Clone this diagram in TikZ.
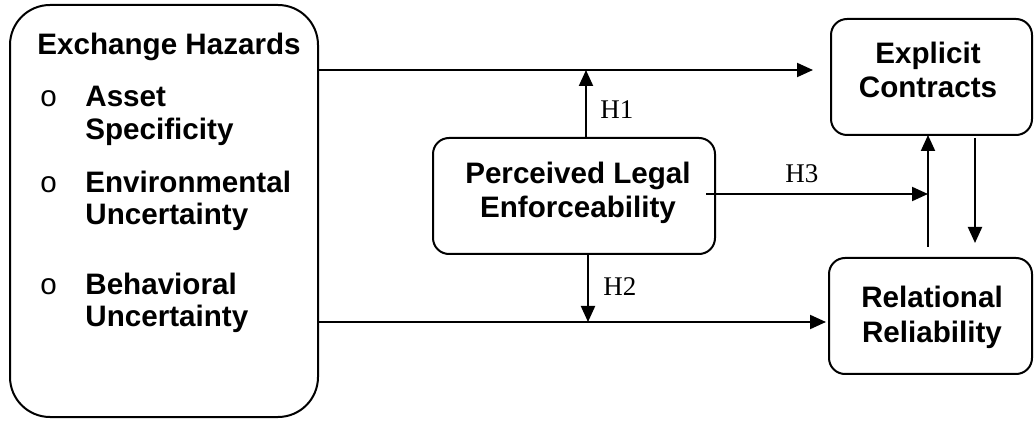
\documentclass[tikz,border=0pt]{standalone}
\usepackage{fontspec}
\setmainfont{Liberation Sans}
\newfontfamily\timesf{Liberation Serif}
\usetikzlibrary{arrows.meta}
\begin{document}
\begin{tikzpicture}[x=0.5pt,y=-0.5pt,
  rbox/.style={draw, line width=1pt, rounded corners=#1, inner sep=0pt},
  lbl/.style={font=\fontsize{14.8}{17}\selectfont\bfseries, inner sep=0pt, anchor=base},
  lblw/.style={lbl, anchor=base west},
  bul/.style={font=\fontsize{14.8}{17}\selectfont, inner sep=0pt, anchor=base west},
  hl/.style={font=\timesf\fontsize{13.5}{15}\selectfont, inner sep=0pt, anchor=base west},
  arr/.style={line width=1pt, -{Triangle[length=8pt,width=7pt]}}]
\useasboundingbox (0,0) rectangle (1034,422);
% boxes
\node[rbox=20pt, minimum width=154pt, minimum height=206pt] (haz) at (164,211) {};
\node[rbox=8pt, minimum width=100.5pt, minimum height=58pt] (ec) at (931.5,77) {};
\node[rbox=8pt, minimum width=101.5pt, minimum height=58pt] (rr) at (930.5,316) {};
\node[rbox=8pt, minimum width=141pt, minimum height=58pt] (ple) at (574,196) {};
% texts
\node[lblw] (t0) at (37,55) {Exchange Hazards};
\node[bul] (b1) at (40,107) {o};
\node[lblw] (a1) at (85,107) {Asset};
\node[lblw] (a2) at (85,140) {Specificity};
\node[bul] (b2) at (40,193) {o};
\node[lblw] (e1) at (85,193) {Environmental};
\node[lblw] (e2) at (85,225) {Uncertainty};
\node[bul] (b3) at (40,295) {o};
\node[lblw] (c1) at (85,295) {Behavioral};
\node[lblw] (c2) at (85,327) {Uncertainty};
\node[lbl] (x1) at (928,64) {Explicit};
\node[lbl] (x2) at (928,98) {Contracts};
\node[lbl] (r1) at (932,308) {Relational};
\node[lbl] (r2) at (932,343) {Reliability};
\node[lbl] (p1) at (578,184) {Perceived Legal};
\node[lbl] (p2) at (578,218) {Enforceability};
\node[hl] (H1) at (600,119) {H1};
\node[hl] (H2) at (603,296) {H2};
\node[hl] (H3) at (785,183) {H3};
% coordinates
\coordinate (topy) at (0,70);
\coordinate (boty) at (0,322);
\coordinate (tipT) at (813,70);
\coordinate (tipB) at (826,322);
\coordinate (h1x) at (586,0);
\coordinate (h2x) at (588,0);
\coordinate (h3s) at (706,194);
\coordinate (h3e) at (928,194);
\coordinate (upb) at (928,247);
\coordinate (upt) at (928,135);
\coordinate (dnt) at (975,138);
\coordinate (dnb) at (975,243);
% connectors
\draw[arr] (haz.east |- topy) -- (tipT);
\draw[arr] (haz.east |- boty) -- (tipB);
\draw[arr] (ple.north -| h1x) -- (h1x |- topy);
\draw[arr] (ple.south -| h2x) -- (h2x |- boty);
\draw[arr] (h3s) -- (h3e);
\draw[arr] (upb) -- (upt);
\draw[arr] (dnt) -- (dnb);
\end{tikzpicture}
\end{document}
